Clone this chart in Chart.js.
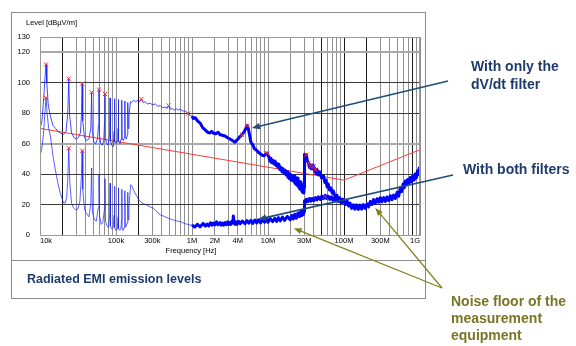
<!DOCTYPE html>
<html>
<head>
<meta charset="utf-8">
<title>Radiated EMI emission levels</title>
<script src="https://cdn.jsdelivr.net/npm/chart.js@4.4.0/dist/chart.umd.min.js"></script>
<style>
  html, body { margin: 0; padding: 0; background: #fff; }
  canvas { display: block; }
</style>
</head>
<body>
<canvas id="emi" width="576" height="346"></canvas>
<script>
// limit line (kHz / dBuV/m)
const limitFreqKHz = [10, 100000, 1000000];
const limitLevel = [70, 36, 56];

// only dV/dt filter, 10k .. 1M (thin sweep)
const dvdtLowFreqKHz = [10, 10.6, 11.2, 11.7, 12.0, 12.3, 12.8, 13.7, 14.8, 16, 17.3, 18.5, 20.4, 22, 23.2, 23.9, 24.6, 26, 28, 30,
  32, 34, 35.2, 35.8, 36.5, 38.5, 41, 44, 46.6, 47.8, 48.8, 51, 54, 57, 58.8, 59.7, 60.6, 63, 66, 69,
  70.7, 71.6, 72.5, 75, 79, 82.5, 83.6, 84.6, 88, 92, 94.6, 95.5, 96.4, 101, 105, 106.6, 107.5, 108.4, 113, 117,
  118.6, 119.4, 120.3, 125, 129, 130.4, 131.3, 132.2, 137, 141, 142.4, 143.3, 144.2, 148, 152, 155, 160, 170, 180, 195,
  205, 216, 228, 243, 260, 282, 300, 330, 355, 383, 410, 445, 470, 492, 520, 551, 590, 620, 660, 698,
  750, 813, 850, 890, 950, 1000];
const dvdtLowLevel = [70, 75, 90, 105, 112, 100, 86, 78, 72, 70, 68, 67, 66, 68, 80, 102.7, 78, 67, 64, 63,
  64, 67, 80, 99.4, 75, 64, 62, 63, 70, 93.7, 68, 61, 60, 63, 72, 95.5, 66, 60, 59, 62,
  74, 92.6, 64, 60, 59, 66, 90, 62, 59, 58, 68, 89.5, 61, 60, 62, 70, 89, 62, 60, 63,
  72, 88.5, 63, 62, 64, 74, 88, 64, 63, 66, 76, 87, 70, 78, 84, 87.5, 87, 88.5, 87.5, 88.5,
  87.5, 89.3, 87, 87.5, 86, 86.5, 85.5, 86, 84.5, 85, 83.5, 84, 83, 85, 82.5, 83, 82, 83, 82, 82.7,
  81.5, 81.5, 80.5, 79.7, 78.5, 78];

// only dV/dt filter, 1M .. 1G
const dvdtHighFreqKHz = [1000, 1040, 1100, 1180, 1280, 1380, 1490, 1600, 1730, 1820,
  1900, 2050, 2200, 2330, 2500, 2720, 2900, 3160, 3400, 3680,
  3850, 4030, 4250, 4550, 4830, 5050, 5300, 5500, 5700, 5950,
  6350, 6650, 6960, 7400, 7850, 8300, 8860, 9300, 9730, 10300,
  10600, 10900, 11200, 11600, 12000, 12400, 12800, 13100, 13500, 13900,
  14300, 14800, 15300, 15800, 16300, 16800, 17300, 17800, 18300, 18700,
  19200, 19600, 20200, 20800, 21500, 22100, 22600, 23100, 23700, 24200,
  24800, 25300, 25900, 26500, 27100, 27700, 28400, 29000, 29600, 29900,
  30200, 31000, 31900, 33000, 34200, 35000, 36000, 37000, 38000, 39000,
  39800, 41000, 41900, 43000, 44200, 46000, 48000, 50500, 53500, 56000,
  58000, 60000, 62100, 64500, 67000, 70000, 72300, 76000, 80900, 84000,
  87000, 90000, 94200, 97000, 101000, 105000, 109600, 115000, 120000, 126000,
  132500, 139000, 146000, 154000, 162000, 171000, 180000, 190000, 201000, 211000,
  222000, 233000, 245000, 258000, 272000, 286000, 300000, 316000, 333000, 350000,
  368000, 388000, 408000, 428000, 450000, 475000, 500000, 525000, 551000, 575000,
  600000, 620000, 641000, 665000, 690000, 718000, 745000, 775000, 805000, 835000,
  867000, 895000, 925000, 950000, 978000, 1000000];
const dvdtHighLevel = [78, 76.5, 77, 75, 73.5, 70.5, 69, 67.5, 67, 68,
  67, 66.5, 67.5, 66, 65.5, 65, 64, 63, 62, 61,
  62, 63, 64.5, 65.8, 67.5, 69.5, 71.8, 70, 66, 61,
  59, 56.5, 56, 54.5, 53.5, 52.5, 52, 53, 53.8, 51,
  48.5, 50.5, 47.5, 49, 46.5, 48.5, 45.5, 47, 44.5, 46.5,
  43, 44.5, 41.5, 43.5, 40.5, 42.5, 39.5, 41.5, 38, 40.5,
  37, 40, 36, 39, 35.5, 38.5, 34, 37.5, 33, 37.5,
  32, 35.5, 30.5, 35, 29.5, 33.5, 28, 33, 27.5, 31,
  53, 50.5, 52.7, 48.5, 47.2, 44.5, 46, 43.5, 46, 43.5,
  45.5, 41.5, 43.5, 40.5, 43, 39.5, 41.5, 37.5, 39, 34.5,
  36, 31.5, 33.5, 29.5, 31, 27.5, 29, 25.5, 26, 23.5,
  24.5, 22.5, 23.5, 21.5, 22, 20, 22.5, 19, 21, 17.5,
  19.8, 17, 19.8, 16.8, 19.6, 17, 20, 17.5, 20.5, 18.5,
  22, 20, 23.2, 20.8, 23.8, 21.5, 24.5, 21.8, 24.6, 22,
  25, 22.5, 25.8, 23.2, 26.2, 24, 28, 25.5, 31, 28.5,
  33.5, 31, 35.5, 32.8, 36.5, 34, 37.8, 35, 38.8, 36,
  40, 37.5, 42, 39.5, 44, 42];

// both filters, 10k .. 1M (thin sweep)
const bothLowFreqKHz = [10, 10.5, 11.1, 11.6, 12.0, 12.4, 13, 13.7, 14.8, 15.9, 17.2, 18.5, 19.5, 20.4, 21.5, 22.5, 23.2, 23.9, 24.7, 26,
  27.5, 29.5, 31.5, 33.5, 35, 35.8, 36.6, 38.5, 41, 44, 46.5, 47.8, 49, 52, 55, 58.5, 59.7, 60.9, 64, 67,
  70.5, 71.6, 72.8, 76, 80, 82.6, 83.6, 84.6, 88, 92, 94.6, 95.5, 96.5, 100, 104, 106.6, 107.5, 108.5, 112, 116,
  118.5, 119.4, 120.4, 124, 128, 130.4, 131.3, 132.3, 136, 140, 142.4, 143.3, 144.3, 148, 152, 156, 162, 170, 180, 190,
  200, 220, 253, 280, 311, 350, 384, 420, 469, 520, 565, 630, 700, 800, 870, 950, 1000];
const bothLowLevel = [52, 56, 66, 80, 90, 80, 70, 65, 52, 43, 34, 27.4, 24, 21, 21, 25, 37, 57, 34, 21,
  18, 16.5, 17, 22, 38, 55.3, 30, 17, 14, 12, 20, 44, 15, 10, 9, 18, 40, 12, 7, 8,
  17, 37, 9, 6, 5, 14, 34, 6, 4, 5, 13, 32, 5, 3, 4, 12, 31, 4, 3, 4,
  10, 30, 4, 3, 5, 10, 29, 5, 6, 8, 12, 28, 10, 18, 26, 33, 32, 29.6, 27, 25,
  23, 21, 19.7, 18.5, 17.6, 15, 13.2, 12.5, 11.4, 10.5, 9.9, 9.2, 8.8, 7.5, 7, 6.6, 6.6];

// both filters, 1M .. 95M
const bothHighFreqKHz = [1000, 1080, 1180, 1280, 1400, 1500, 1570, 1660, 1750, 1830,
  1900, 2000, 2100, 2200, 2330, 2420, 2500, 2600, 2720, 2830,
  2950, 3050, 3160, 3250, 3350, 3440, 3500, 3580, 3650, 3780,
  3900, 4100, 4300, 4600, 4980, 5300, 5600, 5950, 6300, 6700,
  7100, 7500, 8000, 8500, 9000, 9500, 10000, 10700, 11500, 12300,
  13000, 13700, 14500, 15500, 16500, 18000, 19600, 20500, 21500, 22500,
  23600, 24800, 26000, 27000, 28000, 28700, 29300, 29900, 30200, 31500,
  32000, 33500, 35000, 36500, 38000, 40000, 42000, 44000, 46000, 48500,
  51000, 53500, 56700, 59000, 62000, 65000, 68000, 71500, 75000, 78000,
  81000, 84500, 88000, 91500, 95000];
const bothHighLevel = [6.6, 5.2, 7, 5.4, 7.6, 5.8, 7.2, 6, 8, 6.4,
  7.8, 6.6, 8.6, 6.8, 8.2, 6.5, 7.8, 6.4, 8.2, 6.7,
  8.6, 6.9, 8.2, 7, 9, 8, 12.5, 8.5, 7, 8.6,
  7, 9, 7.4, 9.2, 7.4, 9.4, 7.8, 9.6, 7.6, 9.8,
  7.9, 10, 8, 10.4, 8.4, 10.6, 8.4, 10.8, 8.8, 11,
  8.9, 11.4, 9.3, 11.8, 9.6, 12.2, 10, 12.8, 10.5, 13.6,
  11, 14.5, 12, 15.5, 12.8, 16, 13.5, 15.5, 22.5, 21.5,
  23.5, 22, 24, 22.2, 24, 22.4, 24.6, 23, 25, 23.3,
  25.5, 23.8, 26, 24, 25.5, 23.4, 25, 23, 24.5, 22.6,
  24, 22, 23, 21.2, 22];

// peak markers
const peakFreqKHz = [12.0, 23.9, 35.8, 47.8, 59.7, 71.6, 216, 492, 890, 4550, 5300, 9730, 31900, 34200, 36000, 39800, 41900, 56700, 12.0, 23.9, 35.8];
const peakLevel = [112, 102.7, 99.4, 93.7, 95.5, 92.6, 89.3, 85, 79.7, 65.8, 71.8, 53.8, 52.7, 47.2, 45, 45, 42.8, 25.2, 90, 57, 55.3];

// axes
const yTicks = [0, 20, 40, 60, 80, 100, 120, 130];
const xLabelFreqs = [1e4, 1e5, 3e5, 1e6, 2e6, 4e6, 1e7, 3e7, 1e8, 3e8, 1e9];
const xLabelText = ['10k', '100k', '300k', '1M', '2M', '4M', '10M', '30M', '100M', '300M', '1G'];
const darkGridFreqs = [2e4, 2e5, 5e7, 1e8, 2e8, 8e8];

const FONT = '"Liberation Sans", Arial, sans-serif';
const NAVY = '#1f3b6b';
const OLIVE = '#7a7425';

const gridFreqs = [];
for (let d = 1e4; d < 1e9; d *= 10) {
  for (let m = 1; m <= 9; m++) gridFreqs.push(m * d);
}
gridFreqs.push(1e9);

const near = (a, b) => Math.abs(a / b - 1) < 1e-6;
const toPoints = (fk, lv) => fk.map((f, i) => ({ x: f * 1000, y: lv[i] }));

function arrow(ctx, x0, y0, x1, y1, color, width) {
  const ang = Math.atan2(y1 - y0, x1 - x0);
  const len = 8, half = 3.2;
  ctx.strokeStyle = color;
  ctx.fillStyle = color;
  ctx.lineWidth = width;
  ctx.beginPath();
  ctx.moveTo(x0, y0);
  ctx.lineTo(x1 - Math.cos(ang) * len * 0.8, y1 - Math.sin(ang) * len * 0.8);
  ctx.stroke();
  ctx.beginPath();
  ctx.moveTo(x1, y1);
  ctx.lineTo(x1 - Math.cos(ang) * len - Math.sin(ang) * half, y1 - Math.sin(ang) * len + Math.cos(ang) * half);
  ctx.lineTo(x1 - Math.cos(ang) * len + Math.sin(ang) * half, y1 - Math.sin(ang) * len - Math.cos(ang) * half);
  ctx.closePath();
  ctx.fill();
}

const decorations = {
  id: 'decorations',
  afterDraw(chart) {
    const ctx = chart.ctx;
    const a = chart.chartArea;
    const sx = chart.scales.x, sy = chart.scales.y;
    const px = (f, v) => [sx.getPixelForValue(f), sy.getPixelForValue(v)];
    ctx.save();

    // plot border + outer frame
    ctx.strokeStyle = '#9a9a9a';
    ctx.lineWidth = 1;
    ctx.strokeRect(Math.round(a.left) + 0.5, Math.round(a.top) + 0.5, Math.round(a.right - a.left) - 1, Math.round(a.bottom - a.top));
    ctx.strokeStyle = '#8c8c8c';
    ctx.strokeRect(11.5, 12.5, 414, 286);
    ctx.beginPath();
    ctx.moveTo(11.5, 260.5);
    ctx.lineTo(425.5, 260.5);
    ctx.stroke();

    ctx.fillStyle = '#000';
    ctx.font = '7.5px ' + FONT;
    ctx.textBaseline = 'middle';
    ctx.textAlign = 'left';
    ctx.fillText('Level [dBµV/m]', 26, 23);
    ctx.textAlign = 'center';
    ctx.fillText('Frequency [Hz]', 191, 251);

    ctx.textAlign = 'left';
    ctx.fillStyle = NAVY;
    ctx.font = 'bold 12.5px ' + FONT;
    ctx.fillText('Radiated EMI emission levels', 27, 280);

    // annotations
    ctx.font = 'bold 14px ' + FONT;
    ctx.fillText('With only the', 471, 67);
    ctx.fillText('dV/dt filter', 471, 85);
    ctx.fillText('With both filters', 463, 170);
    ctx.fillStyle = OLIVE;
    ctx.fillText('Noise floor of the', 451, 302);
    ctx.fillText('measurement', 451, 319);
    ctx.fillText('equipment', 451, 336);

    let t = px(6.15e6, 70.2);
    arrow(ctx, 448, 81, t[0], t[1], '#1f4e79', 1.6);
    t = px(7.45e6, 10.3);
    arrow(ctx, 453, 175, t[0], t[1], '#1f4e79', 1.6);
    t = px(21.8e6, 4.5);
    arrow(ctx, 442, 288, t[0], t[1], '#85801f', 1.3);
    t = px(258e6, 17.8);
    arrow(ctx, 442, 288, t[0], t[1], '#85801f', 1.3);

    ctx.restore();
  }
};

const ctx = document.getElementById('emi').getContext('2d');

new Chart(ctx, {
  type: 'line',
  data: {
    datasets: [
      {
        label: 'Peaks',
        data: toPoints(peakFreqKHz, peakLevel),
        showLine: false,
        pointStyle: 'crossRot',
        pointRadius: 3,
        borderColor: '#ff2a2a',
        borderWidth: 1
      },
      {
        label: 'With only the dV/dt filter',
        data: toPoints(dvdtHighFreqKHz, dvdtHighLevel),
        borderColor: '#0000ff',
        borderWidth: 3,
        pointRadius: 0
      },
      {
        label: 'With both filters',
        data: toPoints(bothHighFreqKHz, bothHighLevel),
        borderColor: '#0000ff',
        borderWidth: 3,
        pointRadius: 0
      },
      {
        label: 'With only the dV/dt filter (low band)',
        data: toPoints(dvdtLowFreqKHz, dvdtLowLevel),
        borderColor: 'rgba(20,30,255,0.8)',
        borderWidth: 1,
        pointRadius: 0
      },
      {
        label: 'With both filters (low band)',
        data: toPoints(bothLowFreqKHz, bothLowLevel),
        borderColor: 'rgba(20,30,255,0.7)',
        borderWidth: 1,
        pointRadius: 0
      },
      {
        label: 'Limit',
        data: toPoints(limitFreqKHz, limitLevel),
        borderColor: '#ff3b3b',
        borderWidth: 1,
        pointRadius: 0
      }
    ]
  },
  options: {
    responsive: false,
    animation: false,
    devicePixelRatio: 1,
    layout: { padding: { left: 0, right: 156, top: 37, bottom: 91 } },
    plugins: { legend: { display: false }, tooltip: { enabled: false } },
    elements: { line: { tension: 0, borderJoinStyle: 'round' } },
    scales: {
      x: {
        type: 'logarithmic',
        min: 1e4,
        max: 1e9,
        afterBuildTicks: s => { s.ticks = gridFreqs.map(v => ({ value: v })); },
        afterFit: s => { s.height = 20; },
        ticks: {
          autoSkip: false,
          maxRotation: 0,
          align: 'inner',
          padding: 1,
          color: '#000',
          font: { family: FONT, size: 7.5 },
          callback: v => {
            const i = xLabelFreqs.findIndex(f => near(v, f));
            return i >= 0 ? xLabelText[i] : '';
          }
        },
        grid: {
          drawTicks: false,
          color: c => (c.tick && darkGridFreqs.some(f => near(c.tick.value, f))) ? '#1a1a1a' : '#909090',
          lineWidth: 1
        },
        border: { color: '#9a9a9a' }
      },
      y: {
        min: 0,
        max: 130,
        afterBuildTicks: s => { s.ticks = yTicks.map(v => ({ value: v })); },
        afterFit: s => { s.width = 40; },
        ticks: {
          padding: 10,
          color: '#000',
          font: { family: FONT, size: 7.5 }
        },
        grid: {
          drawTicks: false,
          color: c => (c.tick && (c.tick.value === 60 || c.tick.value === 120)) ? '#a8a8a8' : (c.tick && c.tick.value === 130 ? '#9a9a9a' : '#3a3a3a'),
          lineWidth: c => (c.tick && (c.tick.value === 60 || c.tick.value === 120)) ? 2 : 1
        },
        border: { color: '#9a9a9a' }
      }
    }
  },
  plugins: [decorations]
});
</script>
</body>
</html>
